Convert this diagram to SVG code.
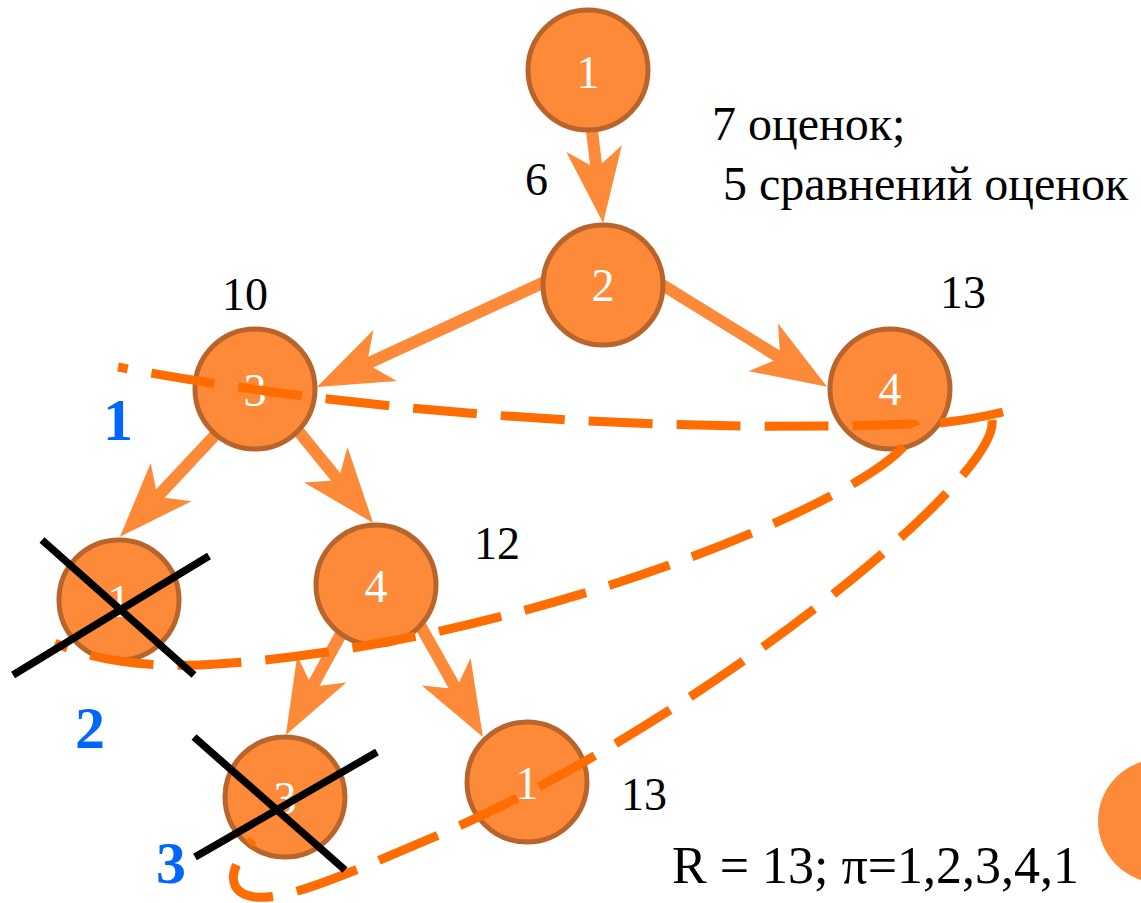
<svg xmlns="http://www.w3.org/2000/svg" width="1141" height="903" viewBox="0 0 1141 903">
<style>
.node circle{fill:#FD8A38;stroke:#B9642B;stroke-width:5}
.node text{fill:#FFFFFF;font-size:46px;text-anchor:middle}
.edge{stroke:#FD8A38;stroke-width:12;fill:none;marker-end:url(#ah)}
.dash{stroke:#FF6C00;stroke-width:9;fill:none;stroke-dasharray:64 24}
.cross{stroke:#000;stroke-width:7.5;stroke-linecap:butt}
.lbl{fill:#000;font-size:46px}
.ru{fill:#000;font-size:48px}
.lvl{fill:#0066FF;font-size:60px;font-weight:bold}
text{font-family:'Liberation Serif','Times New Roman',Tinos,'Noto Serif','DejaVu Serif',Times,serif}
</style>
<defs>
<marker id="ah" markerUnits="userSpaceOnUse" orient="auto" refX="0" refY="0" markerWidth="200" markerHeight="200" viewBox="-100 -100 200 200" overflow="visible">
<path d="M55,0 L-20,-28 L0,0 L-20,28 Z" fill="#FD8A38"/>
</marker>
</defs>
<rect width="1141" height="903" fill="#FFFFFF"/>
<circle cx="1160" cy="821" r="62" fill="#FD8A38"/>
<g id="connectors">
<path class="edge" d="M591,123 L596.5,168.4"/>
<path class="edge" d="M549,280 L366.9,363.9"/>
<path class="edge" d="M656,281 L780.3,357.9"/>
<path class="edge" d="M218,432 L157.5,496.7"/>
<path class="edge" d="M295,427 L338.4,480.3"/>
<path class="edge" d="M347,623 L312.2,686.7"/>
<path class="edge" d="M416,618 L456,689.1"/>
</g>
<g id="n1" class="node"><circle cx="588" cy="70" r="60"/><text x="588" y="88">1</text></g>
<g id="n2" class="node"><circle cx="603" cy="285" r="60"/><text x="603" y="301">2</text></g>
<g id="n3" class="node"><circle cx="255" cy="389" r="60"/><text x="255" y="406">3</text></g>
<g id="n4" class="node"><circle cx="890" cy="389" r="60"/><text x="890" y="405">4</text></g>
<g id="n1c" class="node"><circle cx="119" cy="600" r="60"/><text x="119" y="617">1</text></g>
<g id="n4m" class="node"><circle cx="376" cy="585" r="60"/><text x="376" y="602">4</text></g>
<g id="n3c" class="node"><circle cx="285" cy="797" r="60"/><text x="285" y="814">3</text></g>
<g id="n1b" class="node"><circle cx="527" cy="782" r="60"/><text x="527" y="799">1</text></g>
<g id="loops">
<path class="dash" stroke-dashoffset="54" d="M118,367 C400,420 700,432 912,424 Q922,424 905,445 C850,510 500,650 200,665 Q110,668 55,643"/>
<path class="dash" d="M940,423 Q975,419 1003,412"/>
<path class="dash" d="M992,420 C1000,480 700,720 450,830 C330,882 285,900 255,897 C225,893 228,868 253,840"/>
</g>
<g id="crosses">
<line class="cross" x1="42" y1="540" x2="194" y2="675"/>
<line class="cross" x1="13" y1="675" x2="209" y2="556"/>
<line class="cross" x1="194" y1="737" x2="345" y2="870"/>
<line class="cross" x1="195" y1="857" x2="377" y2="752"/>
</g>
<g id="labels">
<text class="lbl" x="525" y="195">6</text>
<text class="ru" x="712" y="140">7 оценок;</text>
<text class="ru" x="723" y="200">5 сравнений оценок</text>
<text class="lbl" x="222" y="310">10</text>
<text class="lbl" x="940" y="308">13</text>
<text class="lbl" x="474" y="559">12</text>
<text class="lbl" x="621" y="810">13</text>
<text class="lbl" x="672" y="883" style="font-size:52px">R = 13; π=1,2,3,4,1</text>
<text class="lvl" x="103" y="440">1</text>
<text class="lvl" x="75" y="748">2</text>
<text class="lvl" x="156" y="883">3</text>
</g>
</svg>
